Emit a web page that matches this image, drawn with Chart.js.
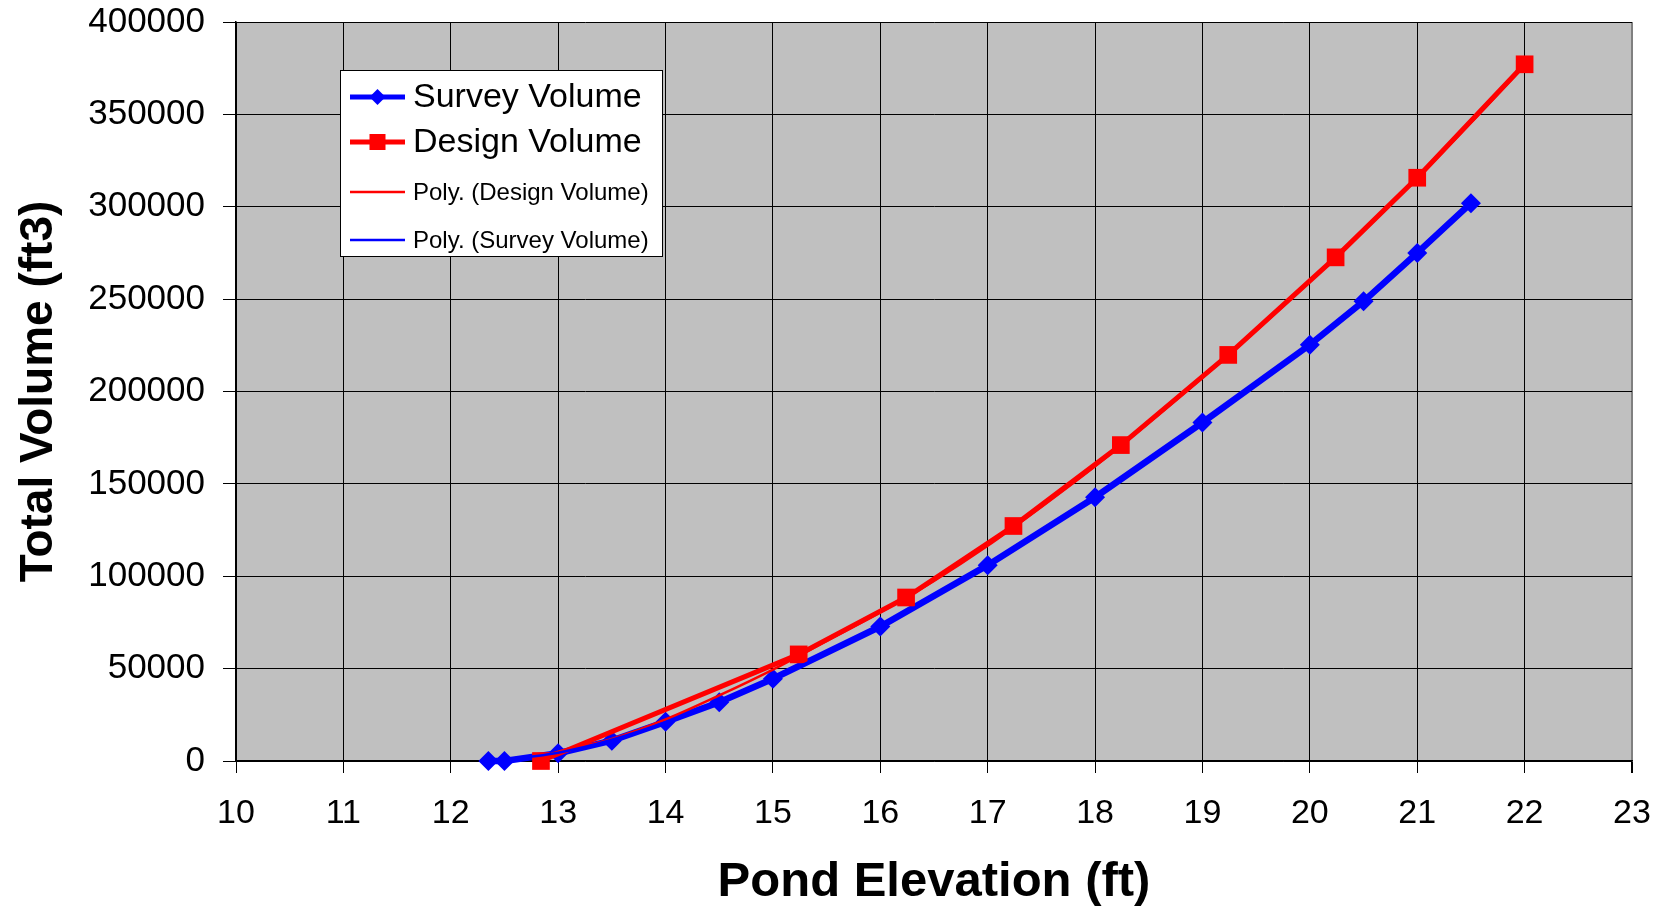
<!DOCTYPE html>
<html>
<head>
<meta charset="utf-8">
<title>Pond Volume</title>
<script src="https://cdn.jsdelivr.net/npm/chart.js@4/dist/chart.umd.min.js"></script>
<style>
  html, body { margin: 0; padding: 0; background: #fff; }
  #wrap { width: 1665px; height: 907px; }
</style>
</head>
<body>
<div id="wrap"><canvas id="chart" width="1665" height="907"></canvas></div>
<script>
// survey data
var surveyElev = [12.35, 12.5, 13, 13.5, 14, 14.5, 15, 16, 17, 18, 19, 20, 20.5, 21, 21.5];
var surveyVol = [0, 0, 4200, 11000, 21200, 31800, 44500, 72800, 106000, 142800, 183200, 225300, 248800, 275000, 301900];

// design data
var designElev = [12.84, 15.24, 16.24, 17.24, 18.24, 19.24, 20.24, 21, 22];
var designVol = [0, 57700, 88500, 127200, 171000, 219800, 272600, 315700, 377100];

// trend lines
var polyDesignElev = [12.84, 13, 13.5, 14, 14.5, 15, 15.5, 16, 16.5, 17, 17.5, 18, 18.5, 19, 19.5, 20, 20.5, 21, 21.5, 22];
var polyDesignVol = [2000, 5000, 12000, 22500, 35500, 49500, 65000, 80500, 97500, 116500, 137500, 159500, 183000, 207500, 233000, 259500, 287000, 315500, 345500, 376500];

var polySurveyElev = [12.35, 12.5, 13, 13.5, 14, 14.5, 15, 15.5, 16, 16.5, 17, 17.5, 18, 18.5, 19, 19.5, 20, 20.5, 21, 21.5];
var polySurveyVol = [300, 900, 4500, 11500, 21000, 32200, 44500, 58200, 72800, 88800, 106000, 124000, 143000, 163000, 183500, 204500, 226000, 248500, 274500, 301500];

var xTicks = [10, 11, 12, 13, 14, 15, 16, 17, 18, 19, 20, 21, 22, 23];
var yTicks = [0, 50000, 100000, 150000, 200000, 250000, 300000, 350000, 400000];

var FONT = '"Liberation Sans", Arial, Helvetica, sans-serif';

function toPoints(xs, ys) {
  return xs.map(function (x, i) { return { x: x, y: ys[i] }; });
}

// grey plot background
var plotBg = {
  id: 'plotBg',
  beforeDraw: function (chart) {
    var a = chart.chartArea;
    var ctx = chart.ctx;
    ctx.save();
    ctx.fillStyle = '#c0c0c0';
    ctx.fillRect(a.left, a.top, a.right - a.left, a.bottom - a.top);
    ctx.restore();
  }
};

// Excel-like legend box with two text sizes
var boxLegend = {
  id: 'boxLegend',
  afterDraw: function (chart) {
    var ctx = chart.ctx;
    var left = 340, top = 70, w = 322, h = 186;
    ctx.save();
    ctx.fillStyle = '#fff';
    ctx.fillRect(left, top, w, h);
    ctx.strokeStyle = '#000';
    ctx.lineWidth = 1;
    ctx.strokeRect(left + 0.5, top + 0.5, w, h);

    var rows = [97, 142, 192, 240];
    var sizes = [34, 34, 24, 24];
    chart.data.datasets.forEach(function (ds, i) {
      var y = rows[i];
      ctx.strokeStyle = ds.borderColor;
      ctx.lineWidth = Math.min(ds.borderWidth, 5);
      ctx.beginPath();
      ctx.moveTo(350, y);
      ctx.lineTo(405, y);
      ctx.stroke();
      ctx.fillStyle = ds.borderColor;
      if (ds.pointStyle === 'rectRot') {
        ctx.beginPath();
        ctx.moveTo(377.5, y - 8);
        ctx.lineTo(385.5, y);
        ctx.lineTo(377.5, y + 8);
        ctx.lineTo(369.5, y);
        ctx.closePath();
        ctx.fill();
      } else if (ds.pointStyle === 'rect') {
        ctx.fillRect(369.5, y - 8, 16, 16);
      }
      ctx.fillStyle = '#000';
      ctx.font = sizes[i] + 'px ' + FONT;
      ctx.textBaseline = 'middle';
      ctx.textAlign = 'left';
      ctx.fillText(ds.label, 413, y + 1);
    });
    ctx.restore();
  }
};

var chart = new Chart(document.getElementById('chart').getContext('2d'), {
  type: 'line',
  data: {
    datasets: [{
      label: 'Survey Volume',
      data: toPoints(surveyElev, surveyVol),
      borderColor: '#0000ff',
      backgroundColor: '#0000ff',
      borderWidth: 6.5,
      pointStyle: 'rectRot',
      pointRadius: 10,
      pointBorderWidth: 0,
      tension: 0,
      clip: false,
      order: 3
    }, {
      label: 'Design Volume',
      data: toPoints(designElev, designVol),
      borderColor: '#ff0000',
      backgroundColor: '#ff0000',
      borderWidth: 5,
      pointStyle: 'rect',
      pointRadius: 12.5,
      pointBorderWidth: 0,
      tension: 0,
      clip: false,
      order: 2
    }, {
      label: 'Poly. (Design Volume)',
      data: toPoints(polyDesignElev, polyDesignVol),
      borderColor: '#ff0000',
      borderWidth: 2.5,
      pointRadius: 0,
      cubicInterpolationMode: 'monotone',
      clip: false,
      order: 1
    }, {
      label: 'Poly. (Survey Volume)',
      data: toPoints(polySurveyElev, polySurveyVol),
      borderColor: '#0000ff',
      borderWidth: 2.5,
      pointRadius: 0,
      cubicInterpolationMode: 'monotone',
      clip: false,
      order: 0
    }]
  },
  options: {
    responsive: false,
    animation: false,
    layout: { autoPadding: false, padding: { left: 0, top: 22, right: 33, bottom: 0 } },
    plugins: {
      legend: { display: false },
      tooltip: { enabled: false }
    },
    scales: {
      x: {
        type: 'linear',
        min: 10,
        max: 23,
        afterFit: function (s) {
          s.height = 146;
          s.paddingLeft = 0;
          s.paddingRight = 0;
        },
        afterBuildTicks: function (s) { s.ticks = xTicks.map(function (v) { return { value: v }; }); },
        ticks: { color: '#000', padding: 20, font: { family: FONT, size: 34 } },
        grid: {
          color: function (c) { return c.tick && c.tick.value === 23 ? '#808080' : '#000'; },
          lineWidth: function (c) { return c.tick && c.tick.value === 23 ? 2 : 1; },
          tickColor: '#000',
          tickLength: 12
        },
        border: { color: '#000', width: 1.5 },
        title: {
          display: true,
          text: 'Pond Elevation (ft)',
          color: '#000',
          font: { family: FONT, size: 49, weight: 'bold', lineHeight: 1 },
          padding: { top: 0, bottom: 0 }
        }
      },
      y: {
        min: 0,
        max: 400000,
        afterFit: function (s) {
          s.width = 236;
          s.paddingTop = 0;
          s.paddingBottom = 0;
        },
        afterBuildTicks: function (s) { s.ticks = yTicks.map(function (v) { return { value: v }; }); },
        ticks: {
          color: '#000',
          padding: 18,
          font: { family: FONT, size: 35 },
          callback: function (v) { return String(v); }
        },
        grid: { color: '#000', lineWidth: 1, tickColor: '#000', tickLength: 13 },
        border: { color: '#000', width: 1.5 },
        title: {
          display: true,
          text: 'Total Volume (ft3)',
          color: '#000',
          font: { family: FONT, size: 46, weight: 'bold', lineHeight: 1 },
          padding: { top: 16, bottom: 0 }
        }
      }
    }
  },
  plugins: [plotBg, boxLegend]
});
</script>
</body>
</html>
